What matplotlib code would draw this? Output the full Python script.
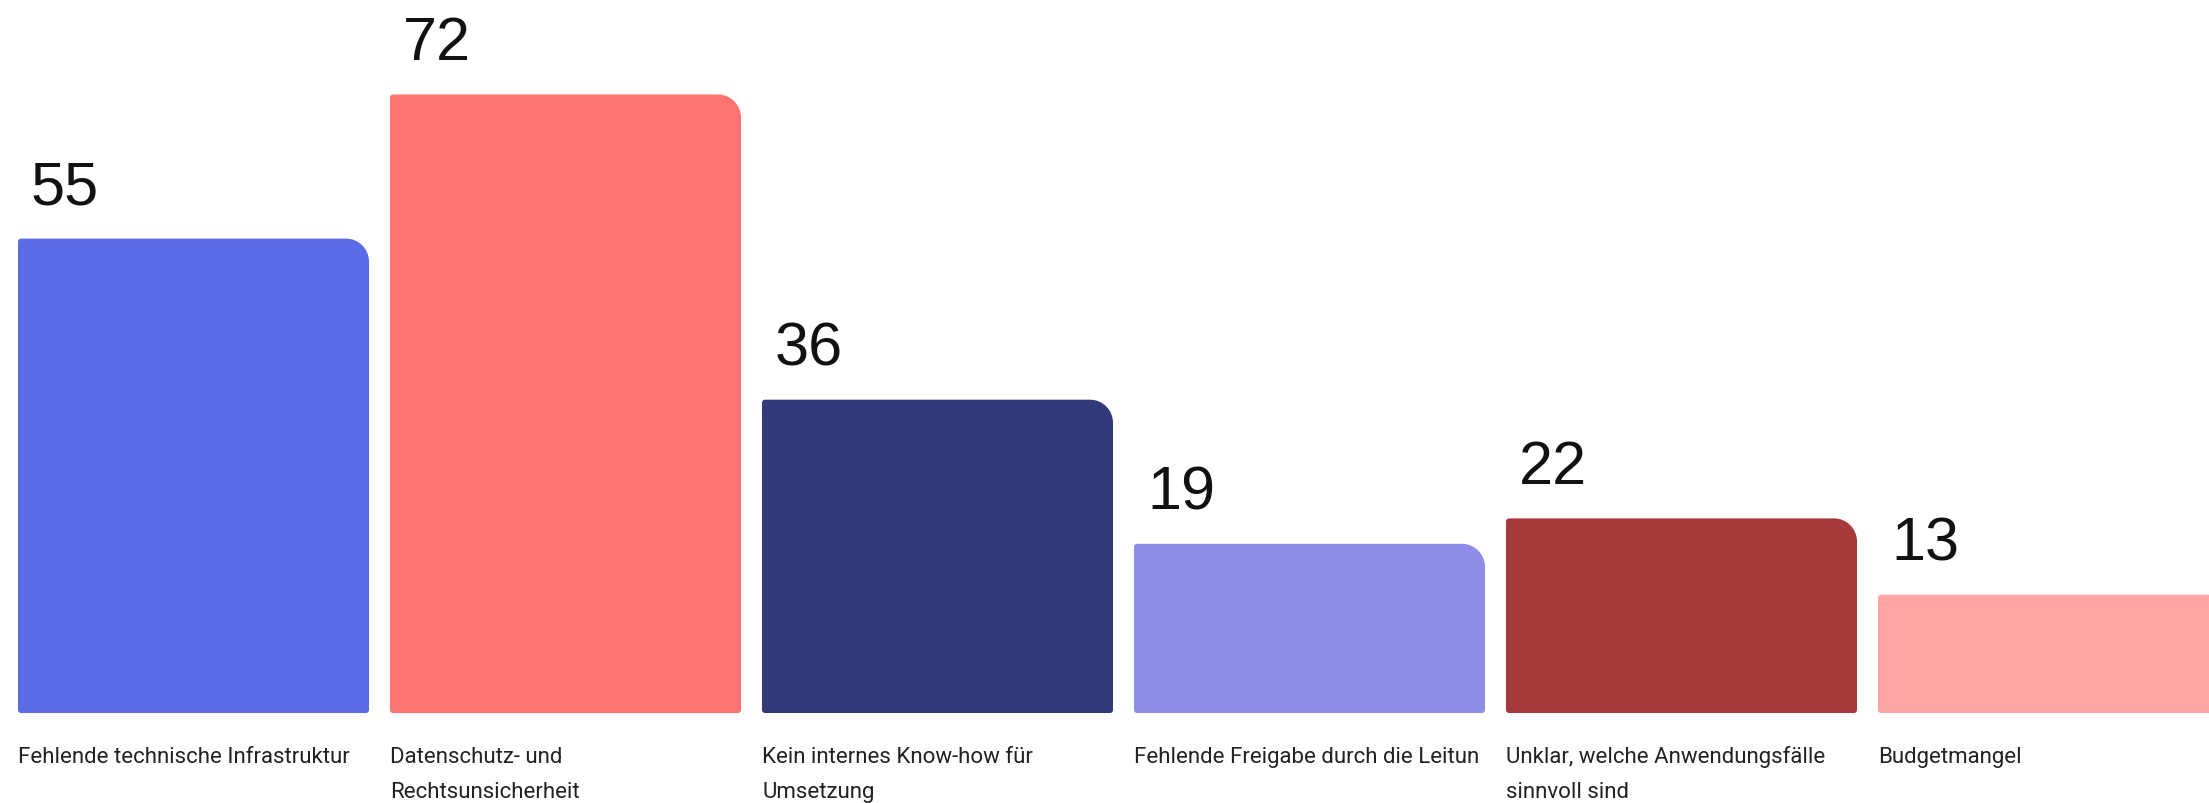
import matplotlib
matplotlib.use("Agg")
import matplotlib.pyplot as plt
from matplotlib.path import Path
from matplotlib.patches import PathPatch

categories = [
    "Fehlende technische Infrastruktur",
    "Datenschutz- und\nRechtsunsicherheit",
    "Kein internes Know-how für\nUmsetzung",
    "Fehlende Freigabe durch die Leitun",
    "Unklar, welche Anwendungsfälle\nsinnvoll sind",
    "Budgetmangel",
]
values = [55, 72, 36, 19, 22, 13]
colors = ["#5A6BE6", "#FF7471", "#323B79", "#8F8DE8", "#A63A3A", "#FFA4A4"]

W, H, DPI = 2209, 804, 100
fig = plt.figure(figsize=(W / DPI, H / DPI), dpi=DPI)
ax = fig.add_axes([0, 0, 1, 1])

# pixel geometry
pitch_px = 372.0
first_center_px = 193.5
bar_w = 351.0 / pitch_px
py_per_unit = 8.478
base_px = 714.0            # bar bottom (from top)
offset_px = 8.1            # bars start slightly below zero
zero_px = base_px - offset_px

ax.set_xlim(-first_center_px / pitch_px, (W - first_center_px) / pitch_px)
ax.set_ylim((zero_px - H) / py_per_unit, zero_px / py_per_unit)
ax.axis("off")

x = list(range(len(values)))
bottom = -offset_px / py_per_unit
bars = ax.bar(x, [v - bottom for v in values], width=bar_w, bottom=bottom, alpha=0)

k = 0.5523
def rounded(x0, y0, x1, y1, rt, rs):
    rtx, rty = rt / pitch_px, rt / py_per_unit
    rsx, rsy = rs / pitch_px, rs / py_per_unit
    verts = [
        (x0 + rsx, y0),
        (x1 - rsx, y0),
        (x1 - rsx * (1 - k), y0), (x1, y0 + rsy * (1 - k)), (x1, y0 + rsy),
        (x1, y1 - rty),
        (x1, y1 - rty * (1 - k)), (x1 - rtx * (1 - k), y1), (x1 - rtx, y1),
        (x0 + rsx, y1),
        (x0 + rsx * (1 - k), y1), (x0, y1 - rsy * (1 - k)), (x0, y1 - rsy),
        (x0, y0 + rsy),
        (x0, y0 + rsy * (1 - k)), (x0 + rsx * (1 - k), y0), (x0 + rsx, y0),
        (x0 + rsx, y0),
    ]
    codes = ([Path.MOVETO, Path.LINETO] + [Path.CURVE4] * 3 + [Path.LINETO] + [Path.CURVE4] * 3
             + [Path.LINETO] + [Path.CURVE4] * 3 + [Path.LINETO] + [Path.CURVE4] * 3 + [Path.CLOSEPOLY])
    return Path(verts, codes)

for b, c, v, lab in zip(bars, colors, values, categories):
    x0 = b.get_x()
    x1 = x0 + b.get_width()
    y0 = b.get_y()
    y1 = y0 + b.get_height()
    ax.add_patch(PathPatch(rounded(x0, y0, x1, y1, 23, 3), facecolor=c, edgecolor="none"))
    ax.annotate(str(v), xy=(x0, y1), xytext=(13, 35), textcoords="offset pixels",
                ha="left", va="baseline", fontsize=44, color="#111111",
                family=["Liberation Sans", "DejaVu Sans"])
    for i, line in enumerate(lab.split("\n")):
        ax.annotate(line, xy=(x0, y0), xytext=(0, -49 - 35 * i), textcoords="offset pixels",
                    ha="left", va="baseline", fontsize=16, color="#222222",
                    family=["Roboto", "DejaVu Sans"], annotation_clip=False)

fig.savefig("out.png", dpi=DPI)
